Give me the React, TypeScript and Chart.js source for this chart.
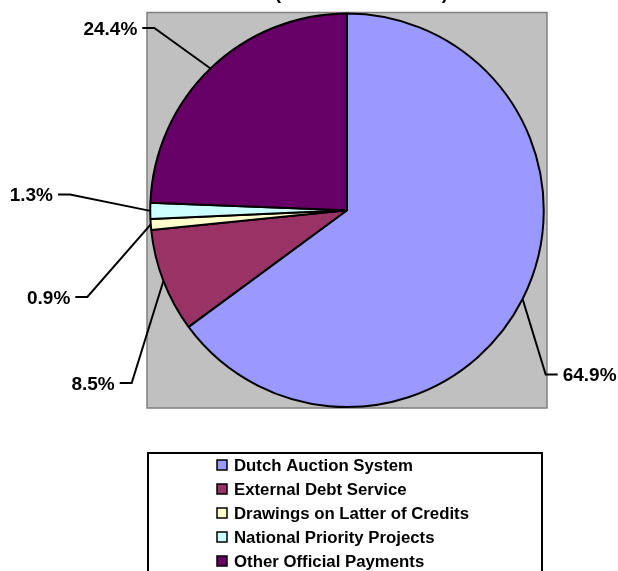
import React, { useEffect, useRef } from "react";
import { Chart, registerables } from "chart.js";

Chart.register(...registerables);

const categories = [
  "Dutch Auction System",
  "External Debt Service",
  "Drawings on Latter of Credits",
  "National Priority Projects",
  "Other Official Payments",
];
const shares = [64.9, 8.5, 0.9, 1.3, 24.4];
const shareLabels = ["64.9%", "8.5%", "0.9%", "1.3%", "24.4%"];
const sliceColors = ["#9999FF", "#993366", "#FFFFCC", "#CCFFFF", "#660066"];

// label elbow offsets from pie centre (layout, not data)
const labelLayout = [
  { dx: 198.7, dy: 164.3, side: 1 },
  { dx: -215.3, dy: 172.7, side: -1 },
  { dx: -259.7, dy: 86.7, side: -1 },
  { dx: -277, dy: -15.7, side: -1 },
  { dx: -192.7, dy: -182.3, side: -1 },
];

const FONT = '"Liberation Sans", Arial, sans-serif';

const plotBgPlugin = {
  id: "plotBg",
  beforeDatasetsDraw(chart: any) {
    const { ctx, chartArea } = chart;
    ctx.save();
    ctx.fillStyle = "#C0C0C0";
    ctx.fillRect(chartArea.left, chartArea.top, chartArea.right - chartArea.left, chartArea.bottom - chartArea.top);
    ctx.strokeStyle = "#808080";
    ctx.lineWidth = 1.5;
    ctx.strokeRect(chartArea.left, chartArea.top, chartArea.right - chartArea.left, chartArea.bottom - chartArea.top);
    ctx.restore();
  },
};

const labelsPlugin = {
  id: "leaderLabels",
  afterDatasetsDraw(chart: any) {
    const { ctx } = chart;
    const meta = chart.getDatasetMeta(0);
    ctx.save();
    ctx.strokeStyle = "#000";
    ctx.lineWidth = 2;
    ctx.fillStyle = "#000";
    ctx.font = `bold 19px ${FONT}`;
    meta.data.forEach((arc: any, i: number) => {
      const p = arc.getProps(["startAngle", "endAngle", "outerRadius", "x", "y"], true);
      const mid = (p.startAngle + p.endAngle) / 2;
      const sx = p.x + Math.cos(mid) * p.outerRadius;
      const sy = p.y + Math.sin(mid) * p.outerRadius;
      const L = labelLayout[i];
      const ex = p.x + L.dx;
      const ey = p.y + L.dy;
      const dashEnd = ex + L.side * 12;
      ctx.beginPath();
      ctx.moveTo(sx, sy);
      ctx.lineTo(ex, ey);
      ctx.lineTo(dashEnd, ey);
      ctx.stroke();
      ctx.textBaseline = "alphabetic";
      ctx.textAlign = L.side > 0 ? "left" : "right";
      ctx.fillText(shareLabels[i], dashEnd + L.side * 5, ey + 6.6);
    });
    // title remnant (cut off at top)
    ctx.textAlign = "center";
    ctx.fillText("(", 278, -1);
    ctx.fillText(")", 445, -1);
    ctx.restore();
  },
};

const legendPlugin = {
  id: "boxLegend",
  afterDraw(chart: any) {
    const { ctx } = chart;
    const colors = chart.data.datasets[0].backgroundColor as string[];
    ctx.save();
    ctx.strokeStyle = "#000";
    ctx.lineWidth = 2;
    ctx.strokeRect(148, 453, 394, 140);
    ctx.font = `bold 16.8px ${FONT}`;
    ctx.textAlign = "left";
    ctx.textBaseline = "alphabetic";
    (chart.data.labels as string[]).forEach((lab, i) => {
      const y = 460 + i * 24;
      ctx.fillStyle = colors[i];
      ctx.fillRect(217, y, 10, 10);
      ctx.lineWidth = 1.5;
      ctx.strokeStyle = "#000";
      ctx.strokeRect(217, y, 10, 10);
      ctx.fillStyle = "#000";
      ctx.fillText(lab, 234, y + 10.8);
    });
    ctx.restore();
  },
};

export default function App() {
  const ref = useRef<HTMLCanvasElement>(null);
  useEffect(() => {
    const chart = new Chart(ref.current as HTMLCanvasElement, {
      type: "pie",
      data: {
        labels: categories,
        datasets: [
          {
            data: shares,
            backgroundColor: sliceColors,
            borderColor: "#000",
            borderWidth: 2,
          },
        ],
      },
      options: {
        responsive: false,
        animation: false,
        devicePixelRatio: 1,
        layout: { padding: { left: 147, right: 71, top: 12.5, bottom: 163 } },
        plugins: {
          legend: { display: false },
          tooltip: { enabled: false },
          title: { display: false },
        },
      },
      plugins: [plotBgPlugin, labelsPlugin, legendPlugin],
    });
    return () => chart.destroy();
  }, []);
  return (
    <div style={{ position: "absolute", left: 0, top: 0, width: 618, height: 571, background: "#fff" }}>
      <canvas ref={ref} width={618} height={571} />
    </div>
  );
}
